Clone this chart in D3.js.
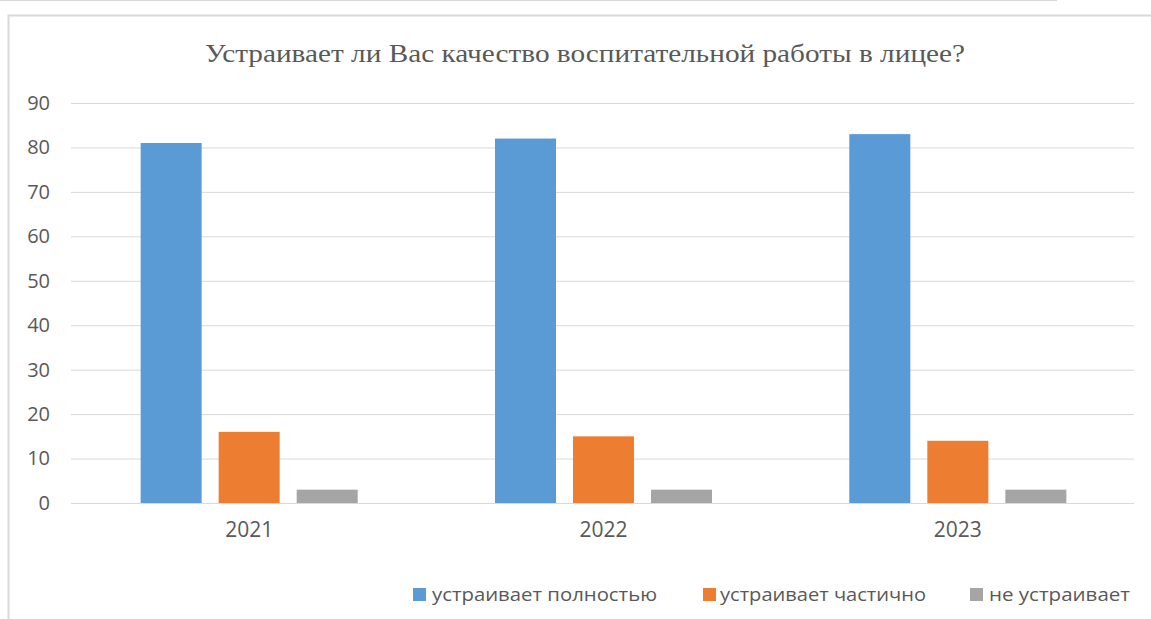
<!DOCTYPE html>
<html>
<head>
<meta charset="utf-8">
<script src="https://cdn.jsdelivr.net/npm/d3@7"></script>
<style>
  html, body { margin: 0; padding: 0; background: #ffffff; }
  svg { display: block; }
</style>
</head>
<body>
<svg id="chart" width="1151" height="619"></svg>
<script>
const categories = ["2021", "2022", "2023"];
const seriesNames = ["устраивает полностью", "устраивает частично", "не устраивает"];
const fullyValues = [81, 82, 83];
const partlyValues = [16, 15, 14];
const notValues = [3, 3, 3];
const yTicks = [0, 10, 20, 30, 40, 50, 60, 70, 80, 90];
const titleText = "Устраивает ли Вас качество воспитательной работы в лицее?";

const seriesValues = [fullyValues, partlyValues, notValues];
const colors = ["#5B9BD5", "#ED7D31", "#A5A5A5"];
const textColor = "#595959";

const svg = d3.select("#chart");

// outer frame lines
svg.append("line").attr("x1", 0).attr("x2", 1057).attr("y1", 0.5).attr("y2", 0.5)
  .attr("stroke", "#d9d9d9").attr("stroke-width", 1);
svg.append("path")
  .attr("d", "M8.5,619 V15.5 H1151")
  .attr("fill", "none").attr("stroke", "#d9d9d9").attr("stroke-width", 2);

// title
svg.append("text")
  .attr("x", 205).attr("y", 62)
  .attr("font-family", "'Liberation Serif', 'Times New Roman', serif")
  .attr("font-size", 26)
  .attr("fill", textColor)
  .attr("textLength", 760)
  .attr("lengthAdjust", "spacingAndGlyphs")
  .text(titleText);

const plotLeft = 71, plotRight = 1134, plotTop = 103, plotBottom = 503;

const y = d3.scaleLinear().domain([0, 90]).range([plotBottom, plotTop]);
const x0 = d3.scaleBand().domain(categories).range([plotLeft + 1, plotRight + 1]).padding(0);
const x1 = d3.scaleBand().domain(d3.range(seriesNames.length))
  .range([0, x0.bandwidth()]).paddingInner(0.218).paddingOuter(0.88);

// gridlines via axis
const yAxis = d3.axisLeft(y).tickValues(yTicks).tickSize(-(plotRight - plotLeft)).tickPadding(21);
const gy = svg.append("g").attr("transform", `translate(${plotLeft},0)`).call(yAxis);
gy.select(".domain").remove();
gy.selectAll(".tick line").attr("stroke", "#d9d9d9").attr("stroke-width", 1);
gy.selectAll(".tick text")
  .attr("font-family", "'Open Sans', 'Liberation Sans', sans-serif")
  .attr("font-size", 20).attr("fill", textColor);

// bars
const groups = svg.append("g").selectAll("g")
  .data(categories).join("g")
  .attr("transform", d => `translate(${x0(d)},0)`);

groups.selectAll("rect")
  .data((c, ci) => seriesValues.map((vals, si) => ({ si, v: vals[ci] })))
  .join("rect")
  .attr("x", d => x1(d.si))
  .attr("width", x1.bandwidth())
  .attr("y", d => y(d.v))
  .attr("height", d => y(0) - y(d.v))
  .attr("fill", d => colors[d.si]);

// x axis labels
const xAxis = d3.axisBottom(x0).tickSize(0).tickPadding(19);
const gx = svg.append("g").attr("transform", `translate(0,${plotBottom})`).call(xAxis);
gx.select(".domain").remove();
gx.selectAll(".tick text")
  .attr("font-family", "'Open Sans', 'Liberation Sans', sans-serif")
  .attr("font-size", 21).attr("fill", textColor);

// legend
const legendItems = [
  { x: 413, tx: 432, w: 225 },
  { x: 703, tx: 720, w: 206 },
  { x: 970, tx: 989, w: 141 }
];
const lg = svg.append("g").selectAll("g").data(seriesNames).join("g");
lg.append("rect")
  .attr("x", (d, i) => legendItems[i].x).attr("y", 588)
  .attr("width", 13).attr("height", 13)
  .attr("fill", (d, i) => colors[i]);
lg.append("text")
  .attr("x", (d, i) => legendItems[i].tx).attr("y", 601)
  .attr("font-family", "'Open Sans', 'Liberation Sans', sans-serif")
  .attr("font-size", 18).attr("fill", textColor)
  .attr("textLength", (d, i) => legendItems[i].w)
  .attr("lengthAdjust", "spacingAndGlyphs")
  .text(d => d);
</script>
</body>
</html>
